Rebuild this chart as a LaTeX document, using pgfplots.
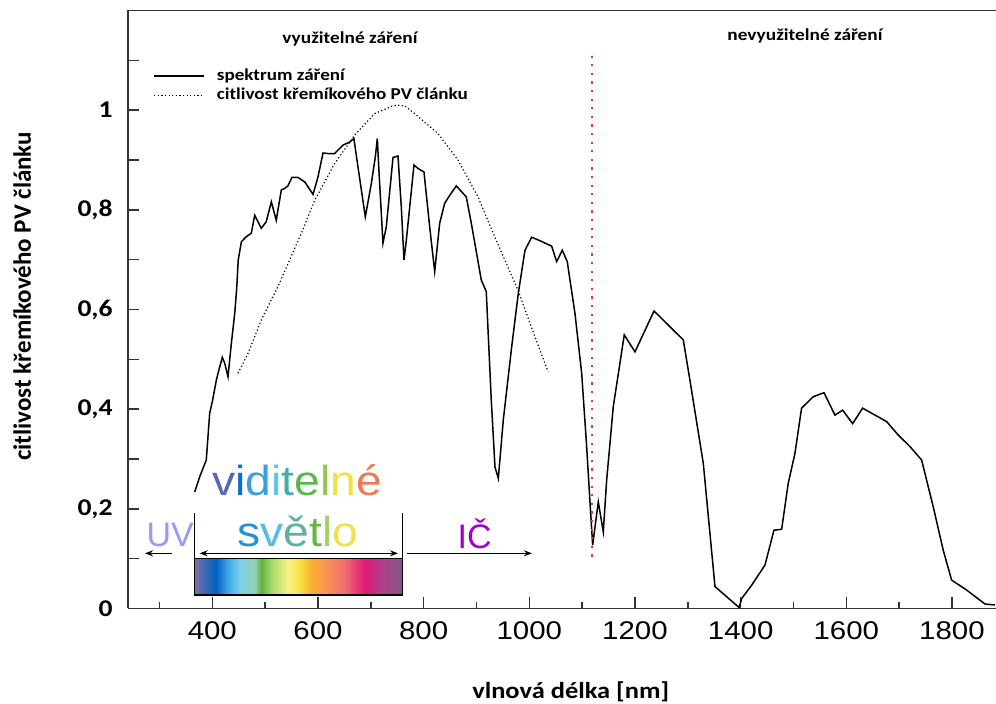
\documentclass[border=0pt]{standalone}
\usepackage{pgfplots}
\pgfplotsset{compat=1.18}
\usetikzlibrary{arrows.meta}
\usepackage{fontspec}
\setmainfont{Carlito}[FakeStretch=1.15]
\newfontfamily\calib{Carlito}
\newfontfamily\arialst{Liberation Sans}[FakeStretch=1.15]
\newfontfamily\arialvis{Liberation Sans}[FakeStretch=1.1]
\newfontfamily\arial{Liberation Sans}

\definecolor{axgray}{HTML}{333333}
\definecolor{redline}{HTML}{E83838}
\definecolor{r0}{HTML}{7A70A8}
\definecolor{r1}{HTML}{0060C0}
\definecolor{r2}{HTML}{40A8E8}
\definecolor{r3}{HTML}{80D0E8}
\definecolor{r4}{HTML}{90D0B0}
\definecolor{r5}{HTML}{60B040}
\definecolor{r6}{HTML}{A8D868}
\definecolor{r7}{HTML}{F8F088}
\definecolor{r8}{HTML}{F8E040}
\definecolor{r9}{HTML}{F8B030}
\definecolor{r10}{HTML}{F89850}
\definecolor{r11}{HTML}{F07070}
\definecolor{r12}{HTML}{E01878}
\definecolor{r13}{HTML}{B04088}
\definecolor{r14}{HTML}{805888}
\pgfdeclarehorizontalshading{rainbow}{100bp}{color(0bp)=(r0); color(25bp)=(r0); color(30bp)=(r1); color(33bp)=(r2); color(36bp)=(r3); color(39.5bp)=(r4); color(41bp)=(r5); color(43.5bp)=(r6); color(47.5bp)=(r7); color(50.5bp)=(r8); color(53bp)=(r9); color(56bp)=(r10); color(61bp)=(r11); color(66bp)=(r12); color(70bp)=(r13); color(75bp)=(r14); color(100bp)=(r14)}

\definecolor{v1}{HTML}{5868B0}
\definecolor{v2}{HTML}{0870C8}
\definecolor{v3}{HTML}{38A0E0}
\definecolor{v4}{HTML}{58C8E8}
\definecolor{v5}{HTML}{40B0A0}
\definecolor{v6}{HTML}{58B848}
\definecolor{v7}{HTML}{90C850}
\definecolor{v8}{HTML}{F0E040}
\definecolor{v9}{HTML}{F07858}
\definecolor{s1}{HTML}{2A90D0}
\definecolor{s2}{HTML}{50C0E0}
\definecolor{s3}{HTML}{60B0A0}
\definecolor{s4}{HTML}{60B840}
\definecolor{s5}{HTML}{A8D060}
\definecolor{s6}{HTML}{F0E050}
\definecolor{uvc}{HTML}{9898F8}
\definecolor{icc}{HTML}{A000D0}

\begin{document}
\begin{tikzpicture}
\begin{axis}[
  at={(0,0)}, anchor=south west,
  scale only axis, width=434pt, height=299pt,
  xmin=240.4, xmax=1883.3, ymin=0, ymax=1.2,
  axis y line*=left,
  axis line style={axgray, line width=0.9pt},
  tick align=inside,
  xtick pos=left,
  xtick={400,600,800,1000,1200,1400,1600,1800},
  xticklabels={400,600,800,1000,1200,1400,1600,1800},
  minor xtick={300,500,700,900,1100,1300,1500,1700},
  ytick={0,0.2,0.4,0.6,0.8,1},
  yticklabels={0,{0,2},{0,4},{0,6},{0,8},1},
  extra y ticks={0.1,0.3,0.5,0.7,0.9,1.1},
  extra y tick labels={},
  major tick length=5.5pt, minor tick length=3pt,
  tick style={axgray, line width=0.8pt},
  /pgf/number format/assume math mode=true,
  xticklabel style={font=\arialst\fontsize{12.8}{14}\selectfont, inner sep=0pt, yshift=-6.5pt},
  yticklabel style={font=\bfseries\fontsize{12}{14}\selectfont, inner sep=0pt, xshift=-7.5pt},
  xlabel={vlnová délka [nm]},
  xlabel style={font=\bfseries\fontsize{11.5}{13}\selectfont, at={(axis description cs:0.51,-0.150)}, anchor=base},
  ylabel={citlivost křemíkového PV článku},
  ylabel style={font=\calib\bfseries\fontsize{12.5}{14}\selectfont, at={(axis description cs:-0.122,0.522)}, anchor=center},
  legend style={at={(axis description cs:0.0288,0.907)}, anchor=north west, draw=none, fill=none,
    inner sep=0pt, font=\bfseries\fontsize{8.3}{9}\selectfont, row sep=0.5pt,
    nodes={inner sep=1pt},
    /tikz/every odd column/.append style={column sep=5pt}},
  legend cell align=left,
  legend image code/.code={\draw[#1] (0pt,0pt) -- (25pt,0pt);},
]
\addplot[black, line width=0.75pt] coordinates {
(366.7,0.234) (376,0.264) (388.6,0.298) (395,0.392) (400,0.415) (407.6,0.458)
(410.8,0.472) (418.9,0.504) (423.5,0.492) (429.7,0.465) (436,0.532) (442.4,0.592)
(446,0.640) (449,0.699) (455,0.736) (464.3,0.746) (473.8,0.753) (480.2,0.789)
(492.7,0.763) (502,0.776) (511.7,0.816) (521,0.779) (530.6,0.840) (537,0.843)
(543,0.848) (550.8,0.865) (562,0.865) (574.9,0.856) (590.6,0.831) (600,0.866)
(609.5,0.914) (619,0.913) (631.6,0.913) (647.4,0.930) (660,0.936) (668,0.943)
(675.7,0.886) (689.6,0.786) (701,0.853) (708.5,0.906) (712.3,0.943) (715,0.886)
(723,0.733) (729.3,0.766) (742,0.905) (751.4,0.908) (757.7,0.806) (762.8,0.699)
(767.2,0.739) (781.7,0.890) (789.3,0.883) (800.6,0.876) (811.4,0.766) (820.9,0.676)
(830.3,0.773) (839.8,0.813) (849.3,0.829) (861.8,0.848) (880.7,0.826) (890.2,0.773)
(909.1,0.659) (918.5,0.636) (928,0.418) (935,0.284) (941.3,0.261) (950.7,0.378)
(966.6,0.525) (979.1,0.632) (991.8,0.719) (1004.5,0.745) (1020.2,0.738) (1042.3,0.727)
(1051.8,0.696) (1062.4,0.719) (1071.8,0.696) (1086.4,0.592) (1099.1,0.472) (1108.5,0.325)
(1114.8,0.214) (1119.9,0.127) (1130.5,0.214) (1140,0.154) (1146.4,0.258) (1158.9,0.405)
(1179.7,0.549) (1200,0.515) (1236,0.597) (1291.4,0.539) (1304,0.458) (1329.3,0.291)
(1351.4,0.044) (1397,0.002) (1402,0.02) (1421,0.047) (1446,0.087) (1463,0.157)
(1477.6,0.159) (1490,0.251) (1502.7,0.311) (1515.3,0.402) (1537.4,0.425) (1557.7,0.433)
(1578.5,0.388) (1593,0.398) (1612,0.371) (1630.9,0.402) (1651,0.390) (1676.4,0.375)
(1698.3,0.348) (1720.4,0.325) (1742.5,0.298) (1764.5,0.204) (1783.4,0.117) (1799.3,0.057)
(1827.7,0.037) (1862.4,0.009) (1881.3,0.007)
};
\addlegendentry{spektrum záření}
\addplot[black, line width=0.6pt, dash pattern=on 0.6pt off 1.2pt] coordinates {
(448.6,0.472) (467.6,0.512) (492.7,0.579) (524.3,0.646) (543.3,0.692) (568.5,0.753)
(593.8,0.819) (631.6,0.893) (669.5,0.950) (707.3,0.993) (740,1.008) (751,1.010)
(765,1.008) (783,0.993) (827.1,0.953) (865,0.900) (902.8,0.826) (934.4,0.746)
(978.5,0.639) (1003.7,0.565) (1035.5,0.475)
};
\addlegendentry{citlivost křemíkového PV článku}
\addplot[redline, line width=1.1pt, dash pattern=on 1.1pt off 3.2pt, forget plot] coordinates {(1118,0.104) (1118,1.116)};

\node[font=\bfseries\fontsize{8.4}{10}\selectfont] at (axis cs:660.6,1.1424) {využitelné záření};
\node[font=\bfseries\fontsize{8.4}{10}\selectfont] at (axis cs:1521.8,1.1485) {nevyužitelné záření};

\shade[shading=rainbow] (axis cs:366.7,0.0271) rectangle (axis cs:759.6,0.1007);
\draw[black, line width=0.6pt] (axis cs:366.7,0.0271) rectangle (axis cs:759.6,0.1007);
\draw[black, line width=0.6pt] (axis cs:366.7,0.1007) -- (axis cs:366.7,0.1916);
\draw[black, line width=0.6pt] (axis cs:759.6,0.1007) -- (axis cs:759.6,0.1916);
\draw[black, line width=0.7pt, {Stealth[length=4pt,width=3pt]}-{Stealth[length=4pt,width=3pt]}] (axis cs:376,0.1107) -- (axis cs:751.5,0.1107);
\draw[black, line width=0.6pt, -{Stealth[length=4pt,width=3pt]}] (axis cs:323.7,0.1107) -- (axis cs:272.6,0.1107);
\draw[black, line width=0.6pt, -{Stealth[length=4pt,width=3pt]}] (axis cs:768.5,0.1107) -- (axis cs:1005,0.1107);

\node[anchor=base, inner sep=0pt, font=\arialvis\fontsize{21}{24}\selectfont] at (axis cs:560.3,0.2277)
  {\textcolor{v1}{v}\textcolor{v2}{i}\textcolor{v3}{d}\textcolor{v4}{i}\textcolor{v5}{t}\textcolor{v6}{e}\textcolor{v7}{l}\textcolor{v8}{n}\textcolor{v9}{é}};
\node[anchor=base, inner sep=0pt, font=\arialvis\fontsize{21}{24}\selectfont] at (axis cs:562.2,0.124)
  {\textcolor{s1}{s}\textcolor{s2}{v}\textcolor{s3}{ě}\textcolor{s4}{t}\textcolor{s5}{l}\textcolor{s6}{o}};
\node[anchor=base, inner sep=0pt, text=uvc, font=\arial\fontsize{17}{20}\selectfont] at (axis cs:320.3,0.124) {UV};
\node[anchor=base, inner sep=0pt, text=icc, font=\arial\fontsize{17}{20}\selectfont] at (axis cs:896.6,0.121) {IČ};
\end{axis}
\pgfresetboundingbox
\path[use as bounding box] (-64pt,-47.75pt) rectangle (434pt,304.25pt);
\end{tikzpicture}
\end{document}
